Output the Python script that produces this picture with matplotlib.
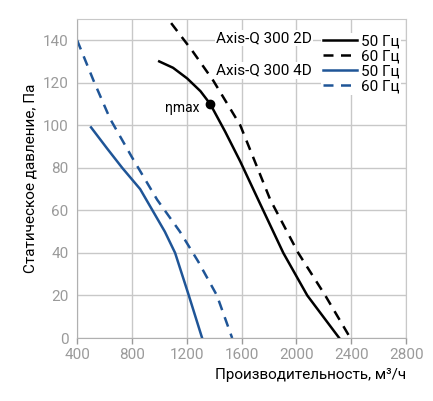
import matplotlib
matplotlib.use("Agg")
import matplotlib.pyplot as plt
from matplotlib.lines import Line2D

plt.rcParams['font.family'] = ['Roboto', 'DejaVu Sans']

# Axis-Q 300 2D
q_2d_50 = [999, 1100, 1203, 1300, 1371, 1480, 1590, 1721, 1904, 2079, 2312]
p_2d_50 = [130, 127, 122, 116, 110, 97, 83, 65, 40, 20, 0]
q_2d_60 = [1086, 1240, 1393, 1590, 1809, 2013, 2210, 2393]
p_2d_60 = [148, 135, 121, 100, 65, 40, 20, 0]
# Axis-Q 300 4D
q_4d_50 = [502, 620, 729, 860, 950, 1040, 1115, 1215, 1312]
p_4d_50 = [99, 89, 80, 70, 60, 50, 40, 20, 0]
q_4d_60 = [400, 520, 641, 800, 984, 1150, 1283, 1420, 1531]
p_4d_60 = [140, 121, 103, 85, 65, 50, 36, 20, 0]
eta_q, eta_p = [1371], [110]

xticks = [400, 800, 1200, 1600, 2000, 2400, 2800]
yticks = [0, 20, 40, 60, 80, 100, 120, 140]

black = '#000000'
blue = '#1f5597'

fig = plt.figure(figsize=(4.33, 4.01), dpi=100)
ax = fig.add_axes([0.178, 0.157, 0.760, 0.796])
ax.plot(q_2d_50, p_2d_50, color=black, lw=1.8)
ax.plot(q_2d_60, p_2d_60, color=black, lw=1.8, ls=(0, (4, 3)))
ax.plot(q_4d_50, p_4d_50, color=blue, lw=1.8)
ax.plot(q_4d_60, p_4d_60, color=blue, lw=1.8, ls=(0, (4, 3)))
ax.plot(eta_q, eta_p, 'o', color=black, ms=6)
ax.annotate('ηmax', (eta_q[0], eta_p[0]), xytext=(-8, -3), textcoords='offset points',
            ha='right', va='center', fontsize=10)

ax.set_xlim(400, 2800)
ax.set_ylim(0, 150)
ax.set_xticks(xticks)
ax.set_yticks(yticks)
ax.grid(True, color='#c8c8c8', lw=1)
ax.set_axisbelow(True)
for s in ['top', 'right']:
    ax.spines[s].set_color('#c8c8c8')
for s in ['left', 'bottom']:
    ax.spines[s].set_color('#b0b0b0')
ax.tick_params(colors='#9a9a9a', labelsize=11, length=4, width=1)
ax.tick_params(axis='y', length=0, pad=6)
ax.set_xlabel('Производительность, м³/ч', fontsize=11, loc='right')
ax.set_ylabel('Статическое давление, Па', fontsize=11)

handles = [Line2D([], [], color=black, lw=1.8),
           Line2D([], [], color=black, lw=1.8, ls=(0, (4, 3))),
           Line2D([], [], color=blue, lw=1.8),
           Line2D([], [], color=blue, lw=1.8, ls=(0, (4, 3)))]
leg = ax.legend(handles, ['50 Гц', '60 Гц', '50 Гц', '60 Гц'], loc='upper right',
                bbox_to_anchor=(0.985, 0.955), frameon=True, framealpha=1,
                edgecolor='none', fontsize=11, handlelength=2.2, handletextpad=0.3,
                labelspacing=0.05, borderpad=0.1, borderaxespad=0)
fig.text(0.72, 0.905, 'Axis-Q 300 2D', ha='right', va='center', fontsize=11,
         bbox=dict(facecolor='white', edgecolor='none', pad=1))
fig.text(0.72, 0.825, 'Axis-Q 300 4D', ha='right', va='center', fontsize=11,
         bbox=dict(facecolor='white', edgecolor='none', pad=1))

fig.savefig('out.png', dpi=100)
